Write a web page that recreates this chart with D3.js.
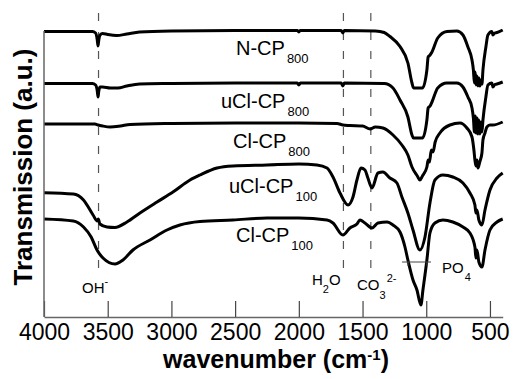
<!DOCTYPE html>
<html>
<head>
<meta charset="utf-8">
<script src="https://cdn.jsdelivr.net/npm/d3@7"></script>
<style>
  body { margin: 0; background: #fff; }
  text { font-family: "Liberation Sans", Arial, Helvetica, sans-serif; }
</style>
</head>
<body>
<div id="chart"></div>
<script>
// tick labels of the wavenumber axis
const xTicks = [4000, 3500, 3000, 2500, 2000, 1500, 1000, 500];

// band positions marked with dashed lines (cm-1)
const bandOH = 3572;
const bandH2O = 1650;
const bandCO3 = 1435;

// spectra: [wavenumber, transmission (a.u., stacked)]
const nCP800 = [
  [4000, 285.5], [3620, 285.5], [3595, 284], [3582, 277], [3576, 271], [3570, 277], [3560, 282],
  [3540, 283.5], [3500, 282.5], [3430, 281.5], [3350, 283], [3250, 285], [3000, 286], [2500, 286.5],
  [2012, 286.5], [2000, 285], [1988, 286.5], [1668, 286.5], [1655, 284], [1642, 286.5], [1400, 286],
  [1330, 284.5], [1285, 280.5], [1206, 270.5], [1144, 254], [1112, 234], [1100, 229], [1030, 229],
  [995, 247], [985, 260], [970, 262], [955, 265], [910, 279], [838, 285.5], [760, 286], [712, 282],
  [673, 270], [641, 257], [630, 247], [622, 234], [616, 245], [609, 232], [602, 241], [594, 231],
  [587, 239], [579, 231], [571, 237], [563, 233], [555, 247], [532, 270], [516, 282], [485, 285.5],
  [477, 282], [462, 284], [445, 284.5], [400, 287]
];
const uClCP800 = [
  [4000, 233.5], [3620, 233.5], [3595, 232], [3582, 226], [3576, 220], [3570, 226], [3560, 230],
  [3540, 230], [3480, 229], [3420, 229], [3350, 231], [3250, 233], [3000, 233.5], [2500, 234],
  [2012, 234], [2000, 232], [1988, 234], [1668, 234], [1655, 231], [1642, 234], [1330, 233.5],
  [1261, 229], [1206, 217], [1144, 200], [1112, 182], [1100, 179], [1030, 179], [995, 197],
  [985, 209], [970, 211], [955, 215], [910, 229], [838, 234], [760, 234], [712, 230], [673, 220],
  [641, 209], [630, 199], [622, 185], [616, 201], [609, 184], [602, 199], [594, 183], [587, 197],
  [579, 183], [571, 195], [563, 185], [555, 197], [532, 220], [516, 232], [485, 234], [477, 230],
  [462, 232.5], [445, 233], [400, 235]
];
const clCP800 = [
  [4000, 193], [3600, 193], [3576, 192], [3540, 191], [3480, 190], [3400, 191], [3325, 192.5],
  [3000, 193.5], [2500, 194], [2000, 194], [1700, 193.5], [1654, 192], [1600, 191.5], [1500, 191],
  [1440, 188], [1400, 190], [1340, 189], [1261, 182], [1191, 172], [1144, 162], [1112, 150],
  [1070, 141], [1050, 137], [1030, 141], [995, 150], [985, 157], [975, 155], [960, 167], [947, 165],
  [930, 175], [893, 184], [814, 192], [736, 194], [681, 189], [641, 180], [626, 167], [618, 157],
  [610, 151], [602, 157], [594, 149], [580, 155], [563, 164], [555, 177], [539, 184], [524, 190],
  [500, 192], [477, 192], [400, 195]
];
const uClCP100 = [
  [4000, 124.3], [3770, 123], [3690, 117], [3615, 102], [3582, 96], [3574, 98], [3561, 93],
  [3506, 90], [3443, 89.5], [3349, 95], [3247, 104], [3113, 115], [2988, 125], [2854, 137],
  [2776, 142], [2642, 149], [2517, 151], [2250, 152], [2000, 153], [1858, 152], [1779, 149],
  [1732, 140], [1677, 124], [1614, 112], [1575, 120], [1544, 137], [1512, 149], [1481, 147],
  [1458, 139], [1426, 129], [1379, 144], [1340, 145], [1285, 139], [1230, 134], [1191, 120],
  [1144, 104], [1104, 87], [1050, 67], [1010, 80], [971, 114], [932, 137], [869, 142], [791, 140],
  [712, 134], [657, 124], [618, 112], [610, 104], [602, 107], [587, 97], [563, 92], [539, 107],
  [500, 127], [445, 139], [400, 144]
];
const clCP100 = [
  [4000, 98], [3770, 96], [3690, 90], [3630, 80], [3584, 67], [3537, 59], [3443, 53], [3380, 57],
  [3302, 67], [3168, 77], [3035, 87], [2933, 92], [2776, 95.5], [2517, 97], [2250, 99], [2000, 99],
  [1779, 97], [1732, 94], [1654, 82], [1599, 89], [1544, 93], [1520, 97], [1481, 94], [1426, 89],
  [1379, 94], [1308, 95], [1261, 92], [1206, 85], [1167, 70], [1144, 57], [1104, 37], [1073, 27],
  [1042, 12], [1026, 27], [995, 57], [971, 84], [932, 94], [869, 97], [791, 95], [712, 90],
  [657, 84], [618, 70], [610, 59], [602, 67], [587, 55], [563, 50], [539, 67], [500, 87],
  [445, 95], [400, 98]
];

const series = [nCP800, uClCP800, clCP800, uClCP100, clCP100];

const width = 517, height = 379;
const plotLeft = 44, plotRight = 502.7, plotTop = 27, plotBottom = 317;

const svg = d3.select("#chart")
  .append("svg")
  .attr("width", width)
  .attr("height", height);

const x = d3.scaleLinear().domain([4000, 400]).range([plotLeft, plotRight]);
const y = d3.scaleLinear().domain([0, 290]).range([plotBottom, plotTop]);

// dashed band markers
[bandOH, bandH2O, bandCO3].forEach(b => {
  svg.append("line")
    .attr("x1", x(b)).attr("x2", x(b))
    .attr("y1", 13).attr("y2", 275)
    .attr("stroke", "#555")
    .attr("stroke-width", 1.2)
    .attr("stroke-dasharray", "8,11");
});

// spectra
const line = d3.line()
  .x(d => x(d[0]))
  .y(d => y(d[1]))
  .curve(d3.curveMonotoneX);

svg.append("g").selectAll("path")
  .data(series)
  .enter()
  .append("path")
  .attr("d", line)
  .attr("fill", "none")
  .attr("stroke", "#000")
  .attr("stroke-width", 3)
  .attr("stroke-linejoin", "round");

// x axis, ticks pointing inward
const xAxis = svg.append("g")
  .attr("transform", `translate(0, ${plotBottom})`)
  .call(d3.axisBottom(x).tickValues(xTicks).tickSize(-16).tickSizeOuter(0).tickPadding(7).tickFormat(d3.format("d")))
  .attr("font-family", "'Liberation Sans', Arial, sans-serif")
  .attr("font-size", 23);
xAxis.select(".domain").attr("stroke", "#666").attr("stroke-width", 1.5);
xAxis.selectAll(".tick line").attr("stroke", "#444").attr("stroke-width", 1.2);
xAxis.selectAll(".tick text").attr("fill", "#000");

// left axis line, no ticks
svg.append("line")
  .attr("x1", plotLeft).attr("x2", plotLeft)
  .attr("y1", y(286)).attr("y2", plotBottom)
  .attr("stroke", "#666")
  .attr("stroke-width", 1.5);

// axis titles
const xTitle = svg.append("text")
  .attr("x", 276).attr("y", 368)
  .attr("text-anchor", "middle")
  .attr("font-size", 25)
  .attr("font-weight", "bold");
xTitle.append("tspan").text("wavenumber (cm");
xTitle.append("tspan").text("-1").attr("font-size", 15).attr("dy", -8);
xTitle.append("tspan").text(")").attr("dy", 8);

svg.append("text")
  .attr("transform", "translate(32, 167) rotate(-90)")
  .attr("text-anchor", "middle")
  .attr("font-size", 26)
  .attr("font-weight", "bold")
  .text("Transmission (a.u.)");

// sample labels with subscripts
function label(px, py, main, sub) {
  const t = svg.append("text").attr("x", px).attr("y", py).attr("font-size", 20);
  t.append("tspan").text(main);
  t.append("tspan").text(sub).attr("font-size", 13).attr("dx", 2).attr("dy", 8);
}
label(236, 55, "N-CP", "800");
label(221, 108, "uCl-CP", "800");
label(233, 148, "Cl-CP", "800");
label(229, 193, "uCl-CP", "100");
label(236, 242, "Cl-CP", "100");

// band annotations
const oh = svg.append("text").attr("x", 82).attr("y", 293).attr("font-size", 15);
oh.append("tspan").text("OH");
oh.append("tspan").text("-").attr("font-size", 11).attr("dy", -8);

const h2o = svg.append("text").attr("x", 312).attr("y", 285).attr("font-size", 15);
h2o.append("tspan").text("H");
h2o.append("tspan").text("2").attr("font-size", 11).attr("dy", 8);
h2o.append("tspan").text("O").attr("dy", -8);

const co3 = svg.append("text").attr("x", 357).attr("y", 290).attr("font-size", 15);
co3.append("tspan").text("CO");
co3.append("tspan").text("3").attr("font-size", 11).attr("dy", 9);
co3.append("tspan").text("2-").attr("font-size", 11).attr("dx", 1).attr("dy", -17);

const po4 = svg.append("text").attr("x", 442).attr("y", 273).attr("font-size", 15);
po4.append("tspan").text("PO");
po4.append("tspan").text("4").attr("font-size", 11).attr("dx", 1).attr("dy", 8);

// PO4 bracket
svg.append("path")
  .attr("d", "M402,262H431M408,262V266M427,262V266")
  .attr("fill", "none")
  .attr("stroke", "#444")
  .attr("stroke-width", 1);
</script>
</body>
</html>
